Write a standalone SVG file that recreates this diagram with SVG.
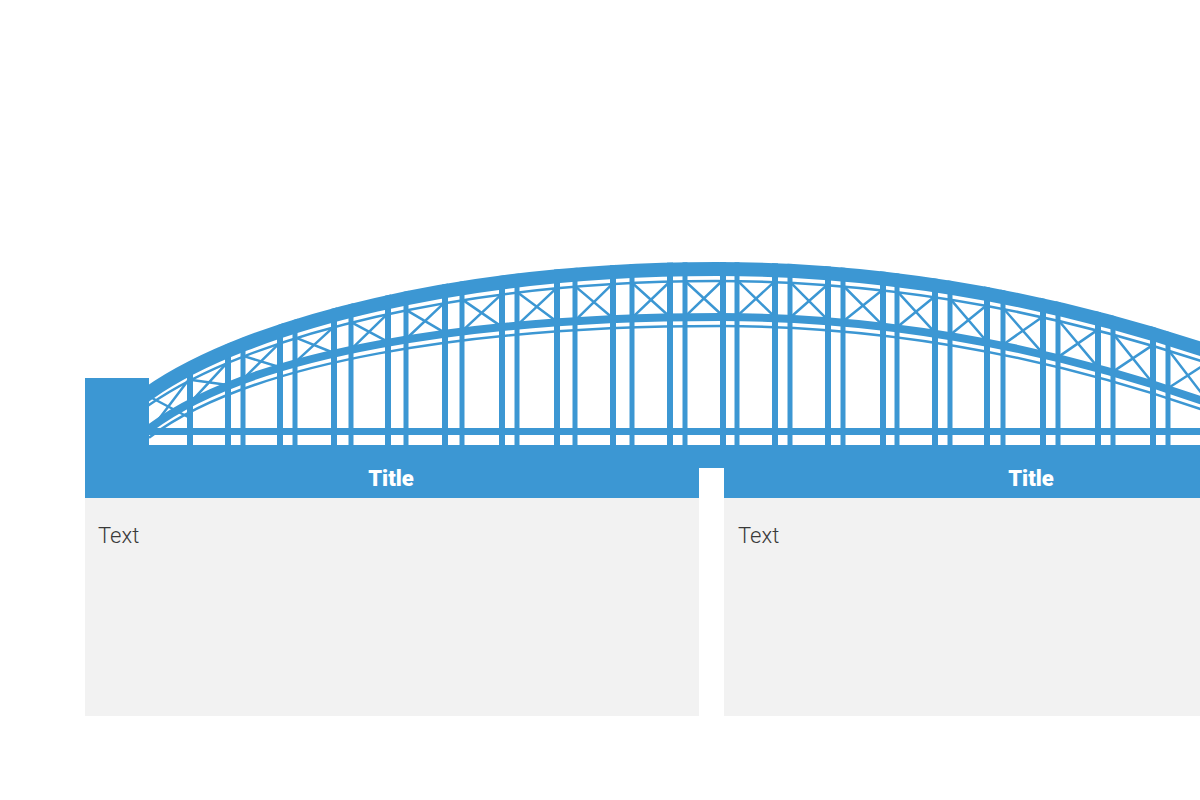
<svg xmlns="http://www.w3.org/2000/svg" width="1200" height="800" viewBox="0 0 1200 800">
  <style>
    .blue { fill: #3C97D3; }
    .gray { fill: #F2F2F2; }
    .chord { fill: none; stroke: #3C97D3; stroke-linecap: square; }
    .brace { fill: none; stroke: #3C97D3; stroke-width: 2.5; }
    .title { font-family: Roboto, "Liberation Sans", sans-serif; font-weight: 900; font-size: 22px; fill: #FFFFFF; text-anchor: middle; }
    .body { font-family: Roboto, "Liberation Sans", sans-serif; font-weight: 300; font-size: 22px; fill: #3A3A3A; }
  </style>
  <defs>
    <path id="arcT" d="M149,386 C249,316 466,262 716,262 Q983,262 1250,359"/>
    <path id="arcM" d="M150,424 C250,349 470,313 720,313 Q985,313 1250,414.1"/>
    <clipPath id="archClip">
      <path d="M149,386 C249,316 466,262 716,262 Q983,262 1250,359 L1250,446 L149,446 Z"/>
    </clipPath>
  </defs>
  <rect x="0" y="0" width="1200" height="800" fill="#FFFFFF"/>

  <g id="bridge">
    <g id="posts" class="blue" clip-path="url(#archClip)">
      <rect x="187" y="255" width="6" height="190"/>
      <rect x="225" y="255" width="6" height="190"/>
      <rect x="240.5" y="255" width="5" height="190"/>
      <rect x="277" y="255" width="6" height="190"/>
      <rect x="292.5" y="255" width="5" height="190"/>
      <rect x="331" y="255" width="6" height="190"/>
      <rect x="348.5" y="255" width="5" height="190"/>
      <rect x="385" y="255" width="6" height="190"/>
      <rect x="403.5" y="255" width="5" height="190"/>
      <rect x="442" y="255" width="6" height="190"/>
      <rect x="459.5" y="255" width="5" height="190"/>
      <rect x="499" y="255" width="6" height="190"/>
      <rect x="514.5" y="255" width="5" height="190"/>
      <rect x="554" y="255" width="6" height="190"/>
      <rect x="572.5" y="255" width="5" height="190"/>
      <rect x="610" y="255" width="6" height="190"/>
      <rect x="629.5" y="255" width="5" height="190"/>
      <rect x="667" y="255" width="6" height="190"/>
      <rect x="682.5" y="255" width="5" height="190"/>
      <rect x="720" y="255" width="6" height="190"/>
      <rect x="734.5" y="255" width="5" height="190"/>
      <rect x="772" y="255" width="6" height="190"/>
      <rect x="787.5" y="255" width="5" height="190"/>
      <rect x="825" y="255" width="6" height="190"/>
      <rect x="840.5" y="255" width="5" height="190"/>
      <rect x="880" y="255" width="6" height="190"/>
      <rect x="894.5" y="255" width="5" height="190"/>
      <rect x="932" y="255" width="6" height="190"/>
      <rect x="947.5" y="255" width="5" height="190"/>
      <rect x="984" y="255" width="6" height="190"/>
      <rect x="1000.5" y="255" width="5" height="190"/>
      <rect x="1040" y="255" width="6" height="190"/>
      <rect x="1055.5" y="255" width="5" height="190"/>
      <rect x="1095" y="255" width="6" height="190"/>
      <rect x="1110.5" y="255" width="5" height="190"/>
      <rect x="1150" y="255" width="6" height="190"/>
      <rect x="1165.5" y="255" width="5" height="190"/>
    </g>
    <path id="braces" class="brace" d="
      M152,398 L190,418 M190,378 L152,428
      M190,379.7 L228,385 M228,361.8 L190,402.8
      M243,355.9 L280,367.2 M280,342.6 L243,379.2
      M295,337.4 L334,353 M334,326.6 L295,362.4
      M351,322.2 L388,341.9 M388,313.4 L351,349.4
      M406,309.8 L445,332.9 M445,302.2 L406,339
      M462,299.4 L502,326.9 M502,293.9 L462,331.1
      M517,291.9 L557,321.8 M557,287.6 L517,325.4
      M575,286.1 L613,318.3 M613,283.3 L575,320.7
      M632,282.7 L670,317 M670,281.5 L632,317.9
      M685,281 L723,316 M723,280 L685,316.7
      M737,280.2 L775,317.1 M775,281.2 L737,316.1
      M790,281.9 L828,320.2 M828,284.3 L790,317.8
      M843,285.5 L883,325.6 M883,289.5 L843,321.4
      M897,291.1 L935,332.6 M935,296.3 L897,327.3
      M950,298.6 L987,341.7 M987,305 L950,335
      M1003,308 L1043,353.6 M1043,316.4 L1003,344.8
      M1058,319.8 L1098,367.4 M1098,329.6 L1058,357.1
      M1113,333.6 L1153,383.5 M1153,344.9 L1113,371.6
      M1168,349.5 L1208,401.7 M1208,362.3 L1168,388.3"/>
    <use id="top-chord" href="#arcT" class="chord" stroke-width="14" transform="translate(0,7)"/>
    <use id="top-thin" href="#arcT" class="chord" stroke-width="2.5" transform="translate(0,19)"/>
    <use id="mid-chord" href="#arcM" class="chord" stroke-width="8" transform="translate(0,4)"/>
    <use id="mid-thin" href="#arcM" class="chord" stroke-width="2.5" transform="translate(0,13)"/>
    <rect id="deck" class="blue" x="149" y="428" width="1051" height="7"/>
    <rect id="abutment" class="blue" x="85" y="378" width="64" height="67"/>
    <rect id="base-band" class="blue" x="85" y="445" width="1115" height="53"/>
  </g>

  <g id="panel-left">
    <rect class="gray" x="85" y="498" width="614" height="218"/>
    <text class="title" x="391" y="486">Title</text>
    <text class="body" x="98" y="543">Text</text>
  </g>

  <g id="panel-right">
    <rect class="gray" x="724" y="498" width="476" height="218"/>
    <text class="title" x="1031" y="486">Title</text>
    <text class="body" x="738" y="543">Text</text>
  </g>

  <rect id="gap" x="699" y="468" width="25" height="248" fill="#FFFFFF"/>
</svg>
